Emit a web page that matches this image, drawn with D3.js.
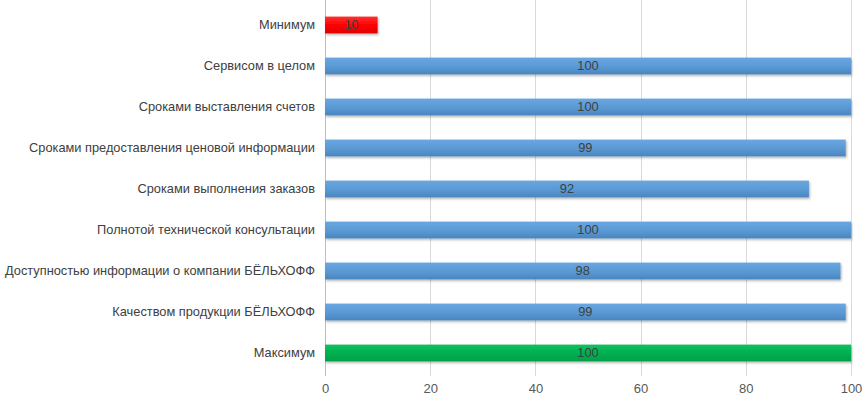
<!DOCTYPE html>
<html><head><meta charset="utf-8">
<script src="https://cdn.jsdelivr.net/npm/d3@7"></script>
<style>body{margin:0;background:#fff}svg{display:block}</style>
</head><body>
<svg id="c" width="865" height="402"></svg>
<script>
const categories = ["Минимум","Сервисом в целом","Сроками выставления счетов","Сроками предоставления ценовой информации","Сроками выполнения заказов","Полнотой технической консультации","Доступностью информации о компании БЁЛЬХОФФ","Качеством продукции БЁЛЬХОФФ","Максимум"];
const values = [10,100,100,99,92,100,98,99,100];
const colors = ["red","blue","blue","blue","blue","blue","blue","blue","green"];
const ticks = [0,20,40,60,80,100];

const svg = d3.select("#c");
const defs = svg.append("defs");
const grads = {red:["#ff3030","#ff0000","#e00000"], blue:["#6aa6e0","#5b9bd5","#4a86c0"], green:["#10c060","#00b050","#00a048"]};
Object.entries(grads).forEach(([k,c])=>{
  const g = defs.append("linearGradient").attr("id","g-"+k).attr("x1",0).attr("y1",0).attr("x2",0).attr("y2",1);
  g.append("stop").attr("offset","0%").attr("stop-color",c[0]);
  g.append("stop").attr("offset","50%").attr("stop-color",c[1]);
  g.append("stop").attr("offset","100%").attr("stop-color",c[2]);
});
const f = defs.append("filter").attr("id","sh").attr("x","-5%").attr("y","-30%").attr("width","110%").attr("height","180%");
f.append("feDropShadow").attr("dx",1).attr("dy",1.5).attr("stdDeviation",1).attr("flood-color","#000").attr("flood-opacity",0.3);

const x = d3.scaleLinear().domain([0,100]).range([325,851]);
const y = d3.scaleBand().domain(categories).range([4.5,373.5]).paddingInner(0.59).paddingOuter(0.295);

const font = "'Liberation Sans', Arial, sans-serif";

svg.append("g").selectAll("line").data(ticks).join("line")
  .attr("x1",d=>Math.round(x(d))+0.5).attr("x2",d=>Math.round(x(d))+0.5)
  .attr("y1",0).attr("y2",376)
  .attr("stroke",d=>d===0?"#bfbfbf":"#d9d9d9").attr("stroke-width",1);

const xAxis = d3.axisBottom(x).tickValues(ticks).tickSize(0).tickPadding(0);
const gx = svg.append("g").attr("transform","translate(0,381)").call(xAxis);
gx.select(".domain").remove();
gx.selectAll("text").attr("font-family",font).attr("font-size",13).attr("fill","#595959").attr("dy","0.9em");

const yAxis = d3.axisLeft(y).tickSize(0).tickPadding(10);
const gy = svg.append("g").attr("transform","translate(325,0)").call(yAxis);
gy.select(".domain").remove();
gy.selectAll("text").attr("font-family",font).attr("font-size",12.8).attr("fill","#404040");

svg.append("g").selectAll("rect").data(values).join("rect")
  .attr("x",x(0)).attr("y",(d,i)=>y(categories[i]))
  .attr("width",d=>x(d)-x(0)).attr("height",y.bandwidth())
  .attr("fill",(d,i)=>"url(#g-"+colors[i]+")").attr("filter","url(#sh)");

svg.append("g").selectAll("text").data(values).join("text")
  .attr("x",d=>(x(0)+x(d))/2).attr("y",(d,i)=>y(categories[i])+y.bandwidth()/2)
  .attr("dy","0.35em").attr("text-anchor","middle")
  .attr("font-family",font).attr("font-size",12.8).attr("fill","#404040")
  .text(d=>d);
</script>
</body></html>
